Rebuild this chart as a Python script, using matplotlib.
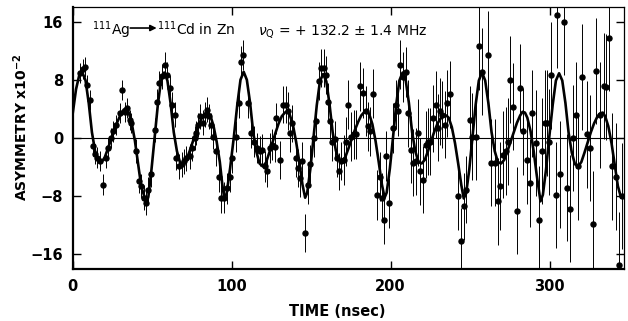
import matplotlib
matplotlib.use("Agg")
import matplotlib.pyplot as plt

# fitted curve
curve_t = [0, 2, 4, 6,
           8, 10, 12, 14, 16, 18, 20, 22, 24, 26, 28, 30, 32, 33.5, 35, 37, 39, 41, 43,
           46.2, 47.5, 49.5, 51.5, 53.5, 55.5, 57.5,
           59.5, 61.5, 63.5, 65.5, 67.5, 69.5, 71.5, 73.5, 75.5, 77.5, 79.5, 81.5, 83.5, 85, 86.5, 88.5, 90.5, 92.5, 94,
           95.3, 96.8, 99, 101.3, 103.5, 105.5, 107.5,
           109.5, 111.5, 113.5, 115.5, 117.5, 119.5, 121.5, 123.5, 125.5, 127.5, 129.5, 131.5, 133.5, 135, 136.5, 138.5, 140.5, 142.5, 144.5,
           146.2, 147.5, 149.5, 151.5, 153.5, 155.5, 157.5,
           159.5, 161.5, 163.5, 165.5, 167.5, 169.5, 171.5, 173.5, 175.5, 177.5, 179.5, 181.5, 183.5, 185, 186.5, 188.5, 190.5, 192.5, 194.5,
           196.2, 197.5, 199.5, 201.5, 203.5, 205.5, 207.5,
           209.5, 211.5, 213.5, 215.5, 217.5, 219.5, 221.5, 223.5, 225.5, 227.5, 229.5, 231.5, 233.5, 235, 236.5, 238.5, 240.5, 242.5, 244.5,
           246, 247.5, 249.5, 251.5, 253.5, 255.5, 257.5,
           259.5, 261.5, 263.5, 265.5, 267.5, 269.5, 271.5, 273.5, 275.5, 277.5, 279.5, 281.5, 283, 284.5, 286, 288, 290, 292,
           294.3, 295.8, 297.8, 299.8, 302, 304, 306,
           308, 310, 312, 314, 316, 318, 320, 322, 324, 326, 328, 330, 332, 333.5, 335, 337, 339, 341, 343, 345, 347]
curve_a = [3.5, 6.7, 8.6, 9.0,
           7.9, 4.8, 0.8, -1.8, -3.1, -3.3, -2.7, -1.5, -0.2, 1.0, 2.2, 3.2, 3.9, 4.1, 3.6, 2.1, -0.3, -3.4, -6.6,
           -8.9, -8.1, -4.3, 0.1, 4.6, 7.9, 9.0,
           7.9, 4.8, 0.8, -1.8, -3.4, -3.6, -3.0, -1.8, -0.5, 0.8, 2.0, 2.9, 3.4, 3.6, 3.1, 1.7, -0.5, -3.3, -6.3,
           -8.3, -7.6, -4.1, 0.1, 4.6, 8.0, 9.1,
           8.0, 4.9, 0.8, -1.9, -3.5, -3.9, -3.4, -2.1, -0.7, 0.7, 2.0, 3.0, 3.5, 3.7, 3.2, 1.8, -0.5, -3.3, -6.4,
           -8.2, -7.5, -4.2, 0.1, 4.5, 7.8, 8.8,
           7.8, 4.7, 0.8, -1.7, -3.0, -3.2, -2.6, -1.4, -0.1, 1.1, 2.2, 3.1, 3.6, 3.8, 3.3, 1.9, -0.4, -3.3, -6.4,
           -8.2, -7.5, -4.2, 0.1, 4.6, 7.9, 9.0,
           7.9, 4.8, 0.8, -1.8, -3.3, -3.5, -3.0, -1.8, -0.4, 0.9, 2.0, 2.7, 3.0, 3.1, 2.8, 1.5, -0.7, -3.5, -6.5,
           -8.3, -7.6, -4.3, 0.1, 4.6, 7.9, 9.0,
           7.9, 4.8, 0.8, -1.8, -3.3, -3.5, -3.0, -1.8, -0.5, 0.8, 2.1, 3.1, 3.6, 3.5, 2.8, 1.0, -1.8, -5.2,
           -8.7, -7.8, -4.3, 0.1, 4.6, 7.9, 8.9,
           7.9, 4.8, 0.7, -2.0, -3.6, -3.9, -3.3, -2.0, -0.6, 0.8, 2.0, 2.9, 3.4, 3.5, 3.0, 1.6, -0.7, -3.6, -6.6, -8.2, -8.0]

# measured asymmetry points
t_data = [4.4, 6.1, 7.5, 8.6, 11.1, 12.4, 13.8, 15.3, 17.0, 19.1, 20.8, 22.2, 23.7, 25.4, 27.0, 29.6, 31.2, 32.7, 34.2, 35.8, 36.9,
          40.0, 41.7, 43.2, 44.7, 45.9, 47.6, 48.9, 51.6, 53.0, 54.3, 55.8, 57.9, 59.3, 61.0, 62.7, 64.2, 65.2, 66.9, 68.4, 69.8, 71.5, 73.6, 75.2, 76.7, 77.8, 78.8, 80.3, 81.6, 83.0, 84.5, 85.7, 87.2, 88.3,
          90.0, 92.0, 93.5, 95.0, 96.7, 98.7, 100.4, 102.9, 104.4, 105.7, 107.1, 110.3, 112.4, 113.9, 116.0, 117.6, 119.3, 120.8, 122.2, 123.9, 125.6, 127.0, 128.1,
          130.2, 132.3, 134.0, 135.4, 136.9, 137.8, 140.3, 141.7, 142.8, 144.5, 145.9, 148.0, 149.5, 151.6, 153.2, 154.9, 156.4, 157.9, 159.1, 160.6, 162.1, 163.3, 164.8, 166.3, 167.5, 169.0,
          170.5, 171.7, 173.2, 175.3, 176.7, 178.4, 180.5, 182.6, 184.3, 185.8, 187.2, 188.9, 191.4, 193.1, 194.8, 195.8, 197.3, 199.0, 201.5, 203.2, 204.6, 206.1, 207.8, 209.4,
          211.0, 213.0, 214.1, 215.7, 217.2, 218.7, 220.3, 222.0, 223.5, 225.0, 226.6, 228.3, 229.8, 231.3, 232.5, 234.0, 235.4, 237.1, 242.3, 244.4, 245.9, 247.6, 249.7,
          251.4, 253.5, 255.6, 257.6, 261.2, 263.3, 265.4, 267.5, 269.0, 270.7, 272.4, 273.8, 275.3, 277.0, 279.5, 281.1, 283.2, 285.5, 287.4, 289.1,
          291.2, 293.3, 295.4, 296.9, 298.3, 299.6, 301.1, 303.8, 304.8, 306.7, 308.8, 310.9, 313.0, 314.7, 316.8, 317.8, 320.6, 323.5, 325.2, 327.3, 329.0, 331.5, 334.0, 335.7, 337.4, 339.5, 341.6, 343.6, 345.8]
a_data = [8.9, 9.5, 9.8, 7.3, 5.2, -1.1, -2.2, -2.7, -3.2, -6.4, -2.7, -1.4, 0.0, 0.9, 1.8, 3.4, 6.6, 3.6, 4.1, 2.5, 2.1,
          -1.8, -5.9, -6.6, -8.2, -8.9, -7.1, -5.0, 1.1, 5.0, 7.5, 8.5, 10.1, 8.7, 6.9, 4.6, 3.2, -2.7, -3.9, -3.6, -3.2, -2.8, -2.5, -1.4, 0.0, 0.7, 1.8, 3.0, 2.1, 3.2, 3.9, 3.0, 1.8, 0.2,
          -1.8, -5.3, -8.2, -8.2, -6.9, -5.3, -2.7, 0.2, 4.8, 10.5, 11.4, 4.8, 0.7, -0.5, -1.4, -1.8, -1.6, -3.9, -4.6, -1.4, -0.9, -1.2, 2.7,
          -3.0, 4.6, 4.6, 3.7, 0.7, 2.0, -2.7, -4.1, -5.5, -3.2, -13.0, -6.4, -3.6, 0.0, 2.3, 7.8, 9.6, 9.6, 8.7, 5.0, 2.3, -0.5, -0.2, -2.7, -4.6, -3.2,
          -3.0, -0.5, 4.6, 0.2, 0.5, 0.5, 7.1, 6.2, 3.7, 1.6, 0.9, 6.1, -7.8, -5.3, -8.2, -11.2, -2.5, -8.9, 1.4, 4.6, 3.7, 10.1, 8.4, 9.1,
          3.4, -1.6, -3.4, -3.2, 0.7, -4.6, -5.7, -0.9, -0.5, -0.5, 2.7, 4.6, 1.4, 3.7, 3.2, 1.8, 4.8, 6.0, -8.0, -14.2, -9.4, -7.1, 2.5,
          0.2, 0.2, 12.6, 9.1, 11.4, -3.4, -3.4, -8.7, -6.6, -2.3, -1.8, -0.5, 8.0, 4.3, -10.0, 6.9, 0.9, -3.0, -6.2, 3.4,
          -0.7, -11.2, -1.8, 2.1, 2.1, -0.5, 8.6, -7.8, 16.9, -5.0, 15.9, -6.8, -9.7, 0.0, 3.2, -3.9, 8.4, 0.5, -1.4, -11.8, 9.2, 3.2, 7.1, 7.0, 13.7, -3.9, -5.3, -17.4, -8.0]
a_err = [1.4, 1.4, 1.4, 1.4, 1.4, 1.4, 1.4, 1.4, 1.4, 1.4, 1.4, 1.4, 1.4, 1.4, 1.4, 1.4, 1.4, 1.4, 1.4, 1.4, 1.4,
         1.7, 1.7, 1.7, 1.7, 1.7, 1.7, 1.7, 1.7, 1.7, 1.7, 1.7, 1.7, 1.7, 1.7, 1.7, 1.7, 1.7, 1.7, 1.7, 1.7, 1.7, 1.7, 1.7, 1.7, 1.7, 1.7, 1.7, 1.7, 1.7, 1.7, 1.7, 1.7, 1.7,
         2.1, 2.1, 2.1, 2.1, 2.1, 2.1, 2.1, 2.1, 2.1, 2.1, 2.1, 2.1, 2.1, 2.1, 2.1, 2.1, 2.1, 2.1, 2.1, 2.1, 2.1, 2.1, 2.1,
         2.6, 2.6, 2.6, 2.6, 2.6, 2.6, 2.6, 2.6, 2.6, 2.6, 2.6, 2.6, 2.6, 2.6, 2.6, 2.6, 2.6, 2.6, 2.6, 2.6, 2.6, 2.6, 2.6, 2.6, 2.6, 2.6,
         3.4, 3.4, 3.4, 3.4, 3.4, 3.4, 3.4, 3.4, 3.4, 3.4, 3.4, 3.4, 3.4, 3.4, 3.4, 3.4, 3.4, 3.4, 3.4, 3.4, 3.4, 3.4, 3.4, 3.4,
         4.6, 4.6, 4.6, 4.6, 4.6, 4.6, 4.6, 4.6, 4.6, 4.6, 4.6, 4.6, 4.6, 4.6, 4.6, 4.6, 4.6, 4.6, 4.6, 4.6, 4.6, 4.6, 4.6,
         6.0, 6.0, 6.0, 6.0, 6.0, 6.0, 6.0, 6.0, 6.0, 6.0, 6.0, 6.0, 6.0, 6.0, 6.0, 6.0, 6.0, 6.0, 6.0, 6.0,
         7.3, 7.3, 7.3, 7.3, 7.3, 7.3, 7.3, 7.3, 7.3, 7.3, 7.3, 7.3, 7.3, 7.3, 7.3, 7.3, 7.3, 7.3, 7.3, 7.3, 7.3, 7.3, 7.3, 7.3, 7.3, 7.3, 7.3, 7.3, 7.3]

x_ticks = [0, 100, 200, 300]
y_ticks = [-16, -8, 0, 8, 16]

plt.rcParams['font.family'] = ['DejaVu Sans']
plt.rcParams['mathtext.default'] = 'regular'

fig = plt.figure(figsize=(6.28, 3.21), dpi=100)
ax = fig.add_axes([0.116, 0.162, 0.878, 0.816])

ax.axhline(0, color='black', lw=0.8, zorder=1)
ax.errorbar(t_data, a_data, yerr=a_err, fmt='o', color='black', ms=3.6,
            elinewidth=0.7, capsize=0, zorder=2)
ax.plot(curve_t, curve_a, color='black', lw=1.9, zorder=3)

ax.set_xlim(0, 347)
ax.set_ylim(-18, 18)
ax.set_xticks(x_ticks)
ax.set_yticks(y_ticks)
ax.tick_params(direction='in', length=6, width=1.0, top=True, right=True,
               labelsize=10.5, pad=7)
for lab in ax.get_xticklabels() + ax.get_yticklabels():
    lab.set_fontweight('bold')
for s in ['left', 'bottom']:
    ax.spines[s].set_linewidth(1.6)
for s in ['top', 'right']:
    ax.spines[s].set_linewidth(0.9)

ax.set_xlabel('TIME (nsec)', fontsize=10.5, fontweight='bold')
ax.xaxis.set_label_coords(0.48, -0.135)
ax.set_ylabel('ASYMMETRY x10$^{-2}$', fontsize=10, fontweight='bold')
ax.yaxis.set_label_coords(-0.077, 0.54)

ax.text(0.0345, 0.895, r'$^{111}$Ag', transform=ax.transAxes,
        fontsize=10, va='baseline')
ax.annotate('', xy=(0.152, 0.92), xytext=(0.104, 0.92), xycoords='axes fraction',
            arrowprops=dict(arrowstyle='-|>', color='black', lw=1.2,
                            mutation_scale=9, shrinkA=0, shrinkB=0))
ax.text(0.153, 0.895, r'$^{111}$Cd in Zn', transform=ax.transAxes,
        fontsize=10, va='baseline')
ax.text(0.336, 0.895, r'$\mathit{\nu}_Q$ = + 132.2 $\pm$ 1.4 MHz',
        transform=ax.transAxes, fontsize=10, va='baseline')

fig.savefig('out.png', dpi=100)
